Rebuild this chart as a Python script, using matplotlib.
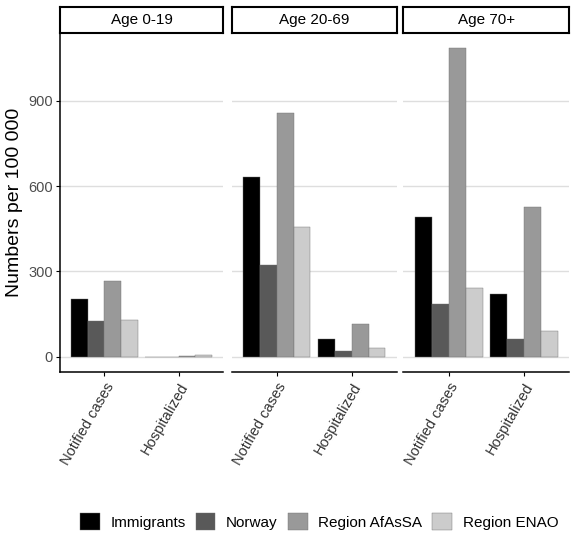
import numpy as np
import matplotlib.pyplot as plt
from matplotlib.patches import Patch

plt.rcParams['font.family'] = ['Liberation Sans', 'DejaVu Sans']

# data
age_groups = ["Age 0-19", "Age 20-69", "Age 70+"]
outcomes = ["Notified cases", "Hospitalized"]
series = ["Immigrants", "Norway", "Region AfAsSA", "Region ENAO"]
colors = ["#000000", "#595959", "#999999", "#cccccc"]

# values per age group: [notified, hospitalized] for each series
immigrants = [[204, 0], [631, 62], [491, 219]]
norway = [[124, 0], [321, 21], [186, 61]]
afassa = [[265, 1], [859, 114], [1085, 526]]
enao = [[128, 5], [456, 29], [241, 92]]
values = [immigrants, norway, afassa, enao]

yticks = [0, 300, 600, 900]

fig = plt.figure(figsize=(5.77, 5.43), dpi=100)

W, H = 577, 543
lefts = [60, 231.7, 403.3]
widths = [163, 165, 166]
ax_top, ax_bot = 33, 372
strip_top = 7

bar_w = 0.9 / 4
x = np.arange(1, len(outcomes) + 1)

for p, age in enumerate(age_groups):
    ax = fig.add_axes([lefts[p] / W, (H - ax_bot) / H, widths[p] / W, (ax_bot - ax_top) / H])
    for g in yticks:
        ax.axhline(g, color="#dedede", lw=1, zorder=0)
    for s in range(len(series)):
        vals = [values[s][p][k] for k in range(len(outcomes))]
        ax.bar(x - 0.45 + bar_w * (s + 0.5), vals, width=bar_w, color=colors[s],
               edgecolor="#6f6f6f", linewidth=0.3, zorder=2)
    ax.set_xlim(0.4, 2.6)
    ax.set_ylim(-54, 1139)
    ax.set_xticks(x)
    ax.set_xticklabels(outcomes, rotation=60, ha="right", rotation_mode="anchor",
                       fontsize=10.5, color="#333333")
    ax.tick_params(axis="x", length=3, width=0.8, pad=3)
    for sp in ["top", "right"]:
        ax.spines[sp].set_visible(False)
    ax.spines["bottom"].set_linewidth(1.1)
    if p == 0:
        ax.set_yticks(yticks)
        ax.set_yticklabels([str(t) for t in yticks], fontsize=10.5, color="#4d4d4d")
        ax.tick_params(axis="y", length=3, width=0.8, pad=2)
        ax.spines["left"].set_linewidth(1.1)
        ax.set_ylabel("Numbers per 100 000", fontsize=14, labelpad=4)
    else:
        ax.spines["left"].set_visible(False)
        ax.set_yticks([])

    # facet strip
    sax = fig.add_axes([lefts[p] / W, (H - ax_top) / H, widths[p] / W, (ax_top - strip_top) / H])
    sax.set_xticks([])
    sax.set_yticks([])
    for sp in sax.spines.values():
        sp.set_linewidth(1.5)
        sp.set_color("black")
    sax.text(0.5, 0.5, age, ha="center", va="center", fontsize=11, transform=sax.transAxes)

handles = [Patch(facecolor=c, edgecolor="#6f6f6f", linewidth=0.3) for c in colors]
fig.legend(handles, series, loc="center", bbox_to_anchor=(0.553, 0.039), ncol=4,
           frameon=False, fontsize=11, handlelength=1.3, handleheight=1.3,
           handletextpad=0.7, columnspacing=0.65)

fig.savefig("out.png", dpi=100)
